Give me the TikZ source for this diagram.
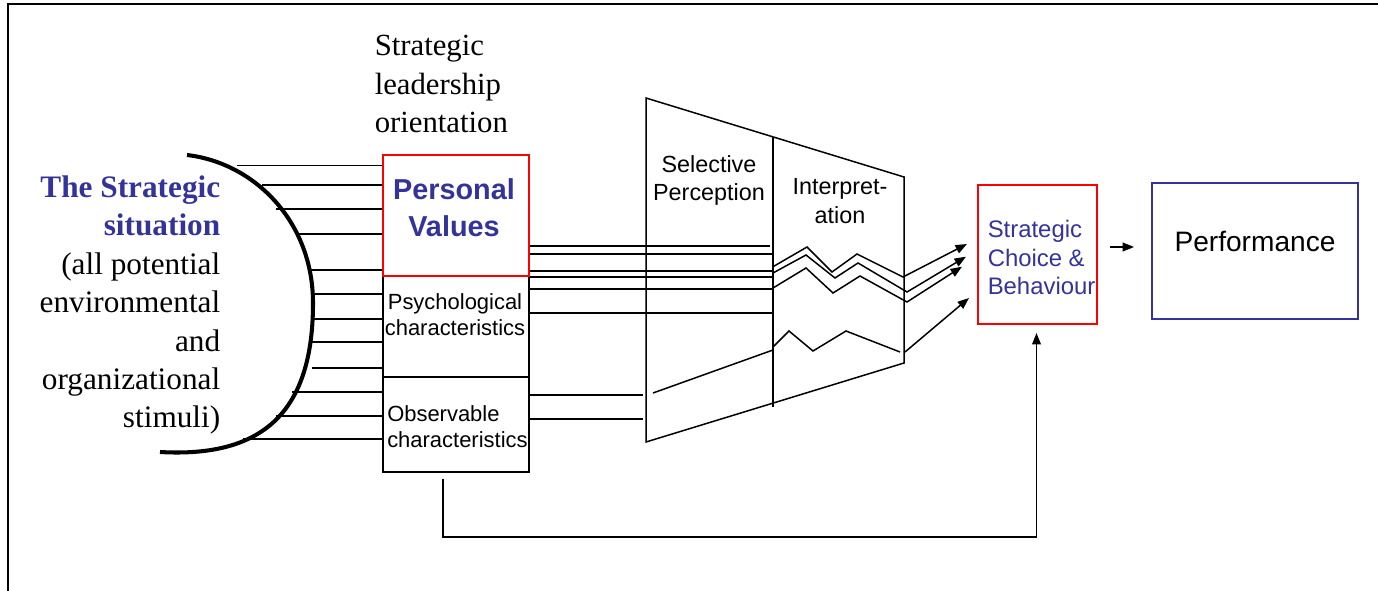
\documentclass[tikz,border=0pt]{standalone}
\usepackage{fontspec}
\setmainfont{Liberation Serif}
\setsansfont{Liberation Sans}
\usetikzlibrary{
  arrows.meta,
  positioning,
  calc
}
\definecolor{slateblue}{RGB}{51,51,153}

\begin{document}
\begin{tikzpicture}[
  x=0.02cm, y=-0.02cm,
  line width=0.85pt,
  serifsit/.style={font=\fontsize{17.8}{21.9}\selectfont, inner sep=0pt},
  charbox/.style={rectangle, draw=black, line width=1.1pt, inner sep=0pt,
    minimum width=2.92cm},
  redbox/.style={rectangle, draw=red, line width=1.2pt, inner sep=0pt},
  charlbl/.style={font=\sffamily\fontsize{12.5}{14.7}\selectfont, inner sep=0pt},
  stagelbl/.style={font=\sffamily\fontsize{13.3}{16.4}\selectfont, inner sep=0pt,
    align=center},
  stim/.style={line width=0.85pt},
  feed/.style={-{Triangle[length=6.5pt,width=5pt]}, line width=0.85pt},
]
\useasboundingbox (0,0) rectangle (1378,591);

% Frame (left and top edges only)
\draw[line width=1.1pt] (8,591) -- (8,4) -- (1378,4);

% The strategic situation
\node[serifsit, anchor=east, align=right] (sitlbl) at (221,305)
  {\textcolor{slateblue}{\bfseries The Strategic}\\
   \textcolor{slateblue}{\bfseries situation}\\
   (all potential\\ environmental\\ and\\ organizational\\ stimuli)};
\draw[line width=2.3pt] (187,155) .. controls (255,163) and (313,222) .. (313,303)
  .. controls (313,410) and (265,458) .. (160,452);

% Strategic leadership orientation
\node[serifsit, font=\fontsize{17.5}{21.9}\selectfont, anchor=west, align=left]
  (orientlbl) at (374,84) {Strategic\\ leadership\\ orientation};

\node[charbox, minimum height=2.02cm] (psy) at (456,326.5) {};
\node[charbox, minimum height=1.90cm] (obs) at (456,424.5) {};
\node[redbox, minimum width=2.92cm, minimum height=2.42cm] (pv) at (456,215.5) {};

\node[font=\sffamily\bfseries\fontsize{16.4}{21}\selectfont, text=slateblue,
  inner sep=0pt, align=center] (pvlbl) at (454,208) {Personal\\ Values};
\node[charlbl, align=center] (psylbl) at (455,315) {Psychological\\ characteristics};
\node[charlbl, align=left, anchor=west] (obslbl) at (386.5,427)
  {Observable\\ characteristics};

% Stimuli from the situation into the orientation
\foreach \ys/\xs in {165.7/237, 185/262, 209/276, 234/298, 270/310, 294/312,
                     319/312, 342/312, 368/312, 392/292, 416/276, 439/243}
  \draw[stim] (\xs,\ys) -- (pv.west |- 0,\ys);

% Perception funnel
\coordinate (ftl) at (646,98);
\coordinate (ftr) at (904,177);
\coordinate (fbr) at (904,363);
\coordinate (fbl) at (646,442);
\draw (ftl) -- (ftr) -- (fbr) -- (fbl) -- cycle;
\draw (773,137) -- (773,407);
\node[stagelbl] (sellbl) at (709,180.5) {Selective\\ Perception};
\node[stagelbl] (intlbl) at (840,201) {Interpret-\\ ation};

% Choice and performance
\node[redbox, minimum width=2.38cm, minimum height=2.78cm] (sc) at (1037.5,254.5) {};
\node[font=\sffamily\fontsize{13.6}{16.2}\selectfont, text=slateblue, inner sep=0pt,
  align=left, anchor=west] (sclbl) at (987,257.5) {Strategic\\ Choice \&\\ Behaviour};
\node[rectangle, draw=slateblue, line width=1.1pt, minimum width=4.12cm,
  minimum height=2.72cm] (pf) at (1255,251) {};
\node[font=\sffamily\fontsize{16}{19}\selectfont, inner sep=0pt] (pflbl) at (1255,241)
  {Performance};

% Filtered stimuli
\foreach \ys/\xe in {246/770, 254/773, 271/773, 277/773, 289/773, 313/773}
  \draw[stim] (pv.east |- 0,\ys) -- (\xe,\ys);
\foreach \ys in {395, 419}
  \draw[stim] (obs.east |- 0,\ys) -- (643,\ys);

\coordinate (tip1) at ($(sc.west)+(-10,-10.5)$);
\coordinate (tip2) at ($(sc.west)+(-11,2.2)$);
\coordinate (tip3) at ($(sc.west)+(-15,12.2)$);
\coordinate (tip4) at ($(sc.west)+(-8,43.5)$);

\draw[feed] (773,266.7) -- (807,247) -- (832,272) -- (857,254) -- (903,277) -- (tip1);
\draw[feed] (773,273) -- (806,255) -- (835,278) -- (858,263) -- (907,292) -- (tip2);
\draw[feed] (773,288) -- (806,268) -- (833,293) -- (860,276) -- (907,302) -- (tip3);
\draw[stim] (653,393) -- (773,350);
\draw[stim] (773,347) -- (789,331) -- (813,351) -- (846,331) -- (900,352);
\draw[feed] (905,352) -- (tip4);

% Choice to performance, and feedback from observable characteristics
\draw[feed] ($(sc.east)+(12,-7.5)$) -- ++(24,0);
\coordinate (fbstart) at ($(obs.south)+(-13,6)$);
\draw[feed] (fbstart) -- ++(0,58) -| ($(sc.south)+(-1,8)$);

\end{tikzpicture}
\end{document}
